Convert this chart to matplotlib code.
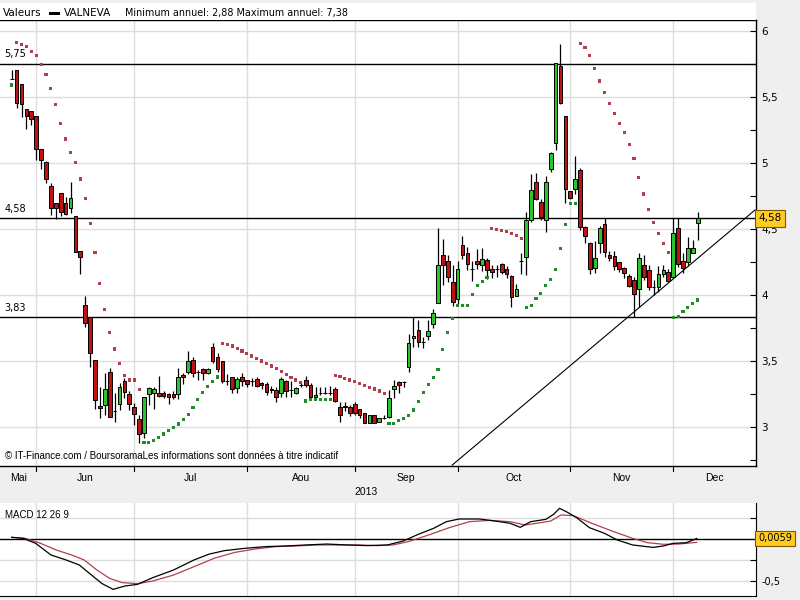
import numpy as np
import matplotlib
matplotlib.use("Agg")
import matplotlib.pyplot as plt
from matplotlib.ticker import FixedLocator, FuncFormatter
from matplotlib.patches import Rectangle
from matplotlib.transforms import blended_transform_factory

## data, one candle per trading day
opens = [5.634, 5.705, 5.596, 5.407, 5.394, 5.356, 5.104, 5.005, 4.826, 4.700,
         4.770, 4.700, 4.657, 4.601, 4.336, 3.925, 3.831, 3.508, 3.162, 3.167,
         3.414, 3.124, 3.172, 3.352, 3.248, 3.154, 3.059, 2.953, 3.250, 3.255,
         3.260, 3.255, 3.250, 3.250, 3.250, 3.394, 3.419, 3.508, 3.415, 3.437,
         3.412, 3.604, 3.533, 3.503, 3.351, 3.376, 3.293, 3.381, 3.356, 3.351,
         3.366, 3.336, 3.326, 3.286, 3.280, 3.255, 3.351, 3.280, 3.260, 3.318,
         3.356, 3.318, 3.225, 3.260, 3.260, 3.260, 3.286, 3.154, 3.160, 3.154,
         3.174, 3.134, 3.104, 3.033, 3.091, 3.041, 3.066, 3.074, 3.291, 3.344,
         3.344, 3.452, 3.672, 3.735, 3.644, 3.690, 3.780, 3.937, 4.301, 4.258,
         4.101, 3.967, 4.376, 4.316, 4.200, 4.258, 4.225, 4.263, 4.200, 4.195,
         4.233, 4.195, 4.144, 3.995, 4.260, 4.286, 4.566, 4.854, 4.702, 4.568,
         4.952, 5.154, 5.735, 5.354, 4.788, 4.801, 4.947, 4.518, 4.391, 4.202,
         4.391, 4.537, 4.303, 4.298, 4.247, 4.202, 4.144, 4.113, 4.043, 4.227,
         4.189, 4.063, 4.063, 4.159, 4.176, 4.139, 4.505, 4.260, 4.252, 4.320,
         4.543]
highs = [5.705, 5.705, 5.596, 5.407, 5.394, 5.356, 5.104, 5.015, 4.846, 4.700,
         4.775, 4.745, 4.854, 4.601, 4.336, 3.996, 3.831, 3.508, 3.306, 3.407,
         3.445, 3.256, 3.330, 3.370, 3.270, 3.180, 3.090, 3.225, 3.306, 3.300,
         3.387, 3.270, 3.255, 3.270, 3.445, 3.410, 3.576, 3.530, 3.430, 3.450,
         3.450, 3.634, 3.560, 3.503, 3.400, 3.380, 3.380, 3.410, 3.360, 3.375,
         3.380, 3.340, 3.345, 3.310, 3.300, 3.377, 3.360, 3.350, 3.300, 3.340,
         3.390, 3.330, 3.300, 3.300, 3.300, 3.310, 3.300, 3.190, 3.190, 3.170,
         3.190, 3.140, 3.110, 3.095, 3.095, 3.070, 3.090, 3.280, 3.360, 3.350,
         3.350, 3.705, 3.833, 3.810, 3.680, 3.810, 3.894, 4.505, 4.424, 4.300,
         4.227, 4.260, 4.447, 4.360, 4.260, 4.350, 4.354, 4.280, 4.230, 4.230,
         4.240, 4.220, 4.150, 4.080, 4.320, 4.626, 4.917, 4.922, 4.725, 4.904,
         5.080, 5.760, 5.902, 5.354, 4.790, 5.053, 4.960, 4.520, 4.400, 4.409,
         4.520, 4.580, 4.330, 4.330, 4.250, 4.210, 4.160, 4.140, 4.320, 4.300,
         4.227, 4.113, 4.220, 4.227, 4.195, 4.580, 4.580, 4.315, 4.442, 4.420,
         4.631]
lows = [5.634, 5.414, 5.346, 5.255, 5.288, 5.023, 4.952, 4.846, 4.606, 4.573,
        4.600, 4.604, 4.624, 4.324, 4.157, 3.760, 3.457, 3.140, 3.066, 3.091,
        3.074, 3.041, 3.130, 3.218, 3.130, 3.016, 2.882, 2.915, 3.167, 3.134,
        3.230, 3.220, 3.174, 3.210, 3.210, 3.325, 3.400, 3.380, 3.360, 3.360,
        3.400, 3.483, 3.420, 3.331, 3.320, 3.255, 3.255, 3.310, 3.300, 3.310,
        3.300, 3.290, 3.240, 3.255, 3.190, 3.230, 3.230, 3.230, 3.250, 3.305,
        3.300, 3.218, 3.210, 3.245, 3.250, 3.240, 3.190, 3.035, 3.120, 3.080,
        3.090, 3.065, 3.030, 3.030, 3.030, 3.035, 3.060, 3.066, 3.220, 3.255,
        3.300, 3.420, 3.606, 3.610, 3.600, 3.660, 3.750, 3.937, 4.076, 4.101,
        3.920, 3.935, 4.270, 4.190, 4.105, 4.200, 4.180, 4.120, 4.130, 4.140,
        4.160, 4.130, 3.907, 3.990, 4.160, 4.150, 4.550, 4.720, 4.568, 4.480,
        4.934, 5.099, 5.450, 4.695, 4.730, 4.763, 4.493, 4.391, 4.157, 4.165,
        4.320, 4.290, 4.260, 4.190, 4.176, 4.126, 4.063, 3.835, 3.911, 4.113,
        4.038, 4.000, 4.025, 4.139, 4.100, 4.126, 4.215, 4.164, 4.220, 4.315,
        4.416]
closes = [5.634, 5.452, 5.445, 5.356, 5.331, 5.104, 5.023, 4.877, 4.657, 4.657,
          4.630, 4.610, 4.733, 4.324, 4.291, 3.791, 3.558, 3.205, 3.142, 3.286,
          3.074, 3.124, 3.306, 3.263, 3.172, 3.099, 2.948, 3.225, 3.293, 3.286,
          3.235, 3.235, 3.230, 3.230, 3.377, 3.377, 3.503, 3.407, 3.415, 3.412,
          3.437, 3.503, 3.437, 3.351, 3.351, 3.286, 3.366, 3.351, 3.326, 3.351,
          3.311, 3.318, 3.265, 3.280, 3.225, 3.366, 3.275, 3.280, 3.293, 3.318,
          3.318, 3.225, 3.243, 3.260, 3.260, 3.260, 3.200, 3.091, 3.154, 3.104,
          3.109, 3.091, 3.033, 3.091, 3.033, 3.066, 3.066, 3.217, 3.311, 3.318,
          3.344, 3.639, 3.692, 3.644, 3.644, 3.727, 3.861, 4.227, 4.225, 4.134,
          3.945, 4.194, 4.301, 4.233, 4.200, 4.233, 4.275, 4.190, 4.174, 4.195,
          4.174, 4.157, 3.983, 4.043, 4.260, 4.568, 4.793, 4.725, 4.593, 4.854,
          5.073, 5.755, 5.452, 4.801, 4.737, 4.876, 4.513, 4.447, 4.200, 4.278,
          4.505, 4.323, 4.277, 4.219, 4.194, 4.169, 4.068, 4.005, 4.277, 4.134,
          4.058, 4.063, 4.156, 4.189, 4.108, 4.467, 4.234, 4.202, 4.353, 4.353,
          4.580]

# parabolic SAR dots
sar = [5.591, 5.912, 5.899, 5.881, 5.844, 5.811, 5.748, 5.667, 5.566, 5.440,
       5.296, 5.182, 5.081, 5.005, 4.879, 4.733, 4.543, 4.324, 4.089, 3.887,
       3.718, 3.591, 3.483, 3.389, 3.356, 3.356, 3.286, 2.881, 2.881, 2.896,
       2.922, 2.947, 2.972, 2.998, 3.023, 3.058, 3.096, 3.149, 3.210, 3.263,
       3.306, 3.344, 3.379, 3.634, 3.627, 3.614, 3.596, 3.576, 3.559, 3.538,
       3.521, 3.500, 3.483, 3.462, 3.445, 3.420, 3.400, 3.377, 3.356, 3.336,
       3.197, 3.210, 3.210, 3.210, 3.210, 3.210, 3.389, 3.381, 3.369, 3.356,
       3.344, 3.331, 3.318, 3.301, 3.288, 3.273, 3.256, 3.028, 3.028, 3.048,
       3.063, 3.088, 3.129, 3.195, 3.263, 3.322, 3.373, 3.437, 3.588, 3.716,
       3.823, 3.920, 3.920, 3.920, 4.005, 4.072, 4.102, 4.135, 4.505, 4.498,
       4.488, 4.480, 4.467, 4.452, 4.429, 3.907, 3.922, 3.972, 4.013, 4.073,
       4.119, 4.195, 4.354, 4.536, 4.695, 4.695, 5.902, 5.876, 5.813, 5.717,
       5.621, 5.535, 5.452, 5.376, 5.300, 5.232, 5.141, 5.035, 4.892, 4.765,
       4.649, 4.551, 4.467, 4.392, 4.323, 3.830, 3.840, 3.873, 3.906, 3.937,
       3.962]

# first trading day of each month (candle index) and the month names
month_starts = [5, 25, 48, 70, 91, 114, 135]
month_names = ['Mai', 'Jun', 'Jul', 'Aou', 'Sep', 'Oct', 'Nov', 'Dec']

levels = [5.75, 4.58, 3.83]
trend_x = [89.9, 151.7]
trend_y = [2.712, 4.644]
last_price = 4.58

# MACD 12 26 9 (sampled along the curve)
macd_x = [0, 2.3, 4.9, 8, 11.1, 13.8, 16.3, 18.4, 20.7, 23.1, 25.7, 28.8, 33,
          37.2, 40.3, 43.4, 47.6, 51.8, 56, 60.1, 64.3, 68.4, 72.6, 76.7, 79.9,
          83, 86.1, 88.7, 91.3, 95.5, 99.6, 101.7, 103.8, 105.9, 109, 110.6,
          111.8, 113.2, 115.3, 117.9, 121, 123.6, 126.7, 130.9, 133, 135,
          137.7, 139.8]
macd_v = [0.02, 0.008, -0.052, -0.19, -0.25, -0.31, -0.43, -0.53, -0.6, -0.56,
          -0.54, -0.46, -0.37, -0.25, -0.18, -0.139, -0.111, -0.091, -0.083,
          -0.071, -0.06, -0.071, -0.079, -0.071, -0.024, 0.056, 0.127, 0.206,
          0.238, 0.238, 0.206, 0.187, 0.139, 0.206, 0.234, 0.294, 0.365,
          0.325, 0.254, 0.135, 0.067, -0.012, -0.071, -0.1, -0.083, -0.052,
          -0.044, 0.006]
sig_x = [0, 2.8, 5.9, 9.1, 12.2, 14.8, 17.4, 20, 22.6, 25.7, 28.8, 33, 37.2,
         41.3, 45.5, 49.7, 53.9, 58, 62.2, 66.4, 70.5, 74.6, 77.8, 80.9, 85.1,
         89.3, 93.4, 97.5, 101.7, 104.8, 107.9, 110, 112.1, 114.6, 118.4,
         122.5, 126.7, 129.8, 133, 136.1, 139.8]
sig_v = [0.02, 0.008, -0.052, -0.131, -0.19, -0.25, -0.37, -0.47, -0.52,
         -0.532, -0.5, -0.43, -0.33, -0.23, -0.16, -0.119, -0.091, -0.083,
         -0.071, -0.071, -0.071, -0.079, -0.071, -0.032, 0.048, 0.135, 0.206,
         0.222, 0.206, 0.167, 0.194, 0.214, 0.286, 0.278, 0.187, 0.095, 0.008,
         -0.044, -0.063, -0.06, -0.04]
macd_last = 0.0059

## figure, laid out in pixels
W, H = 800, 600
narrow = ['Liberation Sans Narrow', 'Liberation Sans', 'DejaVu Sans']
fig = plt.figure(figsize=(8, 6), dpi=100, facecolor='#efefef')

def box(x0, y0, x1, y1):
    return [x0 / W, 1 - y1 / H, (x1 - x0) / W, (y1 - y0) / H]

fig.patches.append(Rectangle((0, 1 - 20 / H), 756 / W, 17 / H, transform=fig.transFigure,
                             facecolor='white', edgecolor='none', zorder=0))

ax = fig.add_axes(box(0, 20, 756, 466))
ax2 = fig.add_axes(box(0, 503, 756, 596), sharex=ax)

xs = np.arange(len(closes))
o = np.array(opens); c = np.array(closes)
up = c >= o
body_col = np.where(up, '#2cc42c', '#bf1212')

ax.vlines(xs, lows, highs, color='black', lw=0.9, zorder=2)
ax.bar(xs, np.abs(c - o), bottom=np.minimum(o, c), width=0.74, color=body_col,
       edgecolor='black', linewidth=0.7, zorder=3)

sar_a = np.array(sar)
sar_col = np.where(sar_a > c, '#b0404c', '#238a2c')
ax.scatter(xs, sar_a, s=5, marker='s', c=sar_col, linewidths=0, zorder=4)

for lv in levels:
    ax.axhline(lv, color='black', lw=1.0, zorder=1)
    ax.text(0.006, lv + 0.035, f'{lv:.2f}'.replace('.', ','), transform=blended_transform_factory(ax.transAxes, ax.transData),
            fontsize=7, va='bottom', ha='left')
ax.plot(trend_x, trend_y, color='black', lw=0.8, zorder=1)

ax.set_xlim(-2.39, 151.9)
ax.set_ylim(2.705, 6.083)
for m in month_starts:
    ax.axvline(m, color='#dddddd', lw=1, zorder=0)
    ax2.axvline(m, color='#dddddd', lw=1, zorder=0)
for g in np.arange(3.0, 6.01, 0.5):
    ax.axhline(g, color='#dddddd', lw=1, zorder=0)

fmt = FuncFormatter(lambda v, p: ('%g' % v).replace('.', ','))
ax.yaxis.tick_right()
ax.yaxis.set_major_locator(FixedLocator(np.arange(3.0, 6.01, 0.5)))
ax.yaxis.set_minor_locator(FixedLocator(np.arange(2.75, 6.01, 0.5)))
ax.yaxis.set_major_formatter(fmt)
ax.tick_params(axis='y', which='both', direction='in', length=4, width=0.8, labelsize=7.5, pad=4)
ax.tick_params(axis='x', which='both', length=0, labelbottom=False)
ax.spines['left'].set_visible(False)
for s in ['top', 'right', 'bottom']:
    ax.spines[s].set_linewidth(1.0)

ax.text(0.006, 0.012, '\u00a9 IT-Finance.com / BoursoramaLes informations sont données à titre indicatif',
        transform=ax.transAxes, fontsize=7, family=narrow, va='bottom')

trans = blended_transform_factory(ax.transAxes, ax.transData)
ax.text(1.003, last_price, ('%.2f' % last_price).replace('.', ','), transform=trans, fontsize=7.5,
        va='center', ha='left', zorder=10,
        bbox=dict(boxstyle='square,pad=0.35', facecolor='#ffcc22', edgecolor='#7a5a00', lw=0.8))

# month ticks and names under the main chart
bounds = [-2.39] + month_starts + [151.9]
xt = blended_transform_factory(ax.transData, ax.transAxes)
for k, name in enumerate(month_names):
    mid = (bounds[k] + bounds[k + 1]) / 2
    ax.text(mid, -0.028, name, transform=xt, fontsize=7.5, family=narrow, ha='center', va='center')
for m in month_starts:
    ax.plot([m, m], [0, -0.012], transform=xt, color='black', lw=0.8, clip_on=False)
fig.text(366 / W, 1 - 492 / H, '2013', fontsize=7.5, family=narrow, ha='center', va='center')

# header
fig.text(3 / W, 1 - 13 / H, 'Valeurs', fontsize=7.5, va='center')
fig.patches.append(Rectangle((49 / W, 1 - 15 / H), 11 / W, 3 / H, transform=fig.transFigure,
                             facecolor='black', edgecolor='none'))
fig.text(64 / W, 1 - 13 / H, 'VALNEVA', fontsize=7.5, va='center')
fig.text(125 / W, 1 - 13 / H, 'Minimum annuel: 2,88 Maximum annuel: 7,38', fontsize=6.9, va='center')

## MACD panel
ax2.plot(macd_x, macd_v, color='black', lw=0.9, zorder=3)
ax2.plot(sig_x, sig_v, color='#b0404c', lw=0.9, zorder=2)
ax2.axhline(0, color='black', lw=1.0, zorder=1)
for g in [0.25, -0.25, -0.5]:
    ax2.axhline(g, color='#dddddd', lw=1, zorder=0)
ax2.set_ylim(-0.679, 0.4286)
ax2.yaxis.tick_right()
ax2.yaxis.set_major_locator(FixedLocator([-0.5, -0.25, 0.25]))
ax2.yaxis.set_major_formatter(FuncFormatter(lambda v, p: '-0,5' if abs(v + 0.5) < 1e-6 else ''))
ax2.tick_params(axis='y', direction='in', length=4, width=0.8, labelsize=7, pad=4)
ax2.tick_params(axis='x', length=0, labelbottom=False)
ax2.spines['left'].set_visible(False)
ax2.spines['top'].set_visible(False)
ax2.text(0.006, 0.93, 'MACD 12 26 9', transform=ax2.transAxes, fontsize=7, family=narrow, va='top')
ax2.text(1.003, macd_last, ('%.4f' % macd_last).replace('.', ','),
         transform=blended_transform_factory(ax2.transAxes, ax2.transData), fontsize=7,
         va='center', ha='left', bbox=dict(boxstyle='square,pad=0.3', facecolor='#ffcc22', edgecolor='#7a5a00', lw=0.8))

fig.savefig('out.png', dpi=100, facecolor=fig.get_facecolor())
